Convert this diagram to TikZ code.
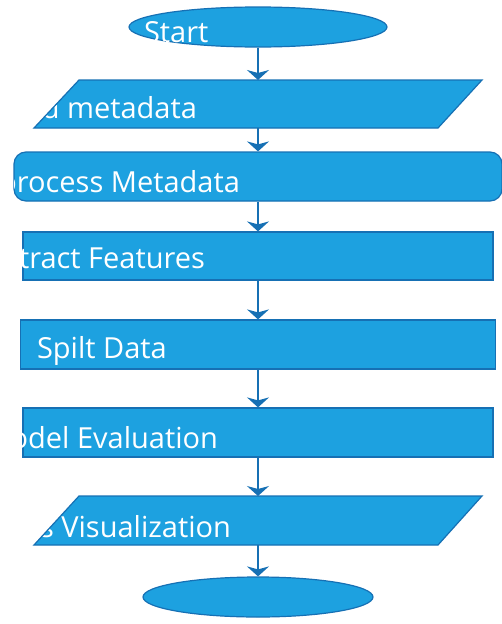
\documentclass[tikz,border=0pt]{standalone}
\usepackage{fontspec}
\setmainfont{Open Sans}
\usetikzlibrary{shapes.geometric,arrows.meta}
\definecolor{boxfill}{HTML}{1DA1E0}
\definecolor{boxline}{HTML}{1670B4}
\tikzset{
  flow/.style={fill=boxfill, draw=boxline, line width=1.2pt},
  frame/.style={inner sep=0pt, outer sep=0pt, draw=none},
  lbl/.style={text=white, inner sep=0pt, outer sep=0pt, font=\fontsize{29}{35}\selectfont},
  link/.style={draw=boxline, line width=1.5pt, -{Stealth[width=22pt,length=10pt,inset=3pt]}}
}
\begin{document}
\begin{tikzpicture}[x=1pt, y=-1pt]
  \useasboundingbox (0,0) rectangle (501,624);

  % text anchors (labels are clipped to their shapes)
  \coordinate (startTxt) at (144,42);
  \coordinate (loadTxt)  at (197,118);
  \coordinate (preTxt)   at (240,192);
  \coordinate (extTxt)   at (205,268);
  \coordinate (splitTxt) at (37,358);
  \coordinate (modelTxt) at (218,448);
  \coordinate (resTxt)   at (231,537);

  % terminator: start
  \node[flow, ellipse, inner sep=0pt, minimum width=258pt, minimum height=40pt]
        (start) at (258,27) {};
  \begin{scope}
    \clip (start) ellipse [x radius=129pt, y radius=20pt];
    \node[lbl, anchor=base west] (startLbl) at (startTxt) {Start};
  \end{scope}

  % input: load metadata
  \node[frame, minimum width=448pt, minimum height=48pt] (load) at (258,104) {};
  \path[flow, path picture={\node[lbl, anchor=base east] (loadLbl) at (loadTxt) {Load metadata};}]
    (load.south west) -- ([xshift=45pt]load.north west) -- (load.north east)
    -- ([xshift=-44pt]load.south east) -- cycle;

  % process steps
  \node[flow, rectangle, rounded corners=12pt, inner sep=0pt,
        minimum width=488pt, minimum height=49pt] (pre) at (258,176.5) {};
  \begin{scope}
    \clip[rounded corners=12pt] (pre.south west) rectangle (pre.north east);
    \node[lbl, anchor=base east] (preLbl) at (preTxt) {Preprocess Metadata};
  \end{scope}

  \node[flow, rectangle, inner sep=0pt, minimum width=470pt, minimum height=48pt]
        (ext) at (258,256) {};
  \begin{scope}
    \clip (ext.south west) rectangle (ext.north east);
    \node[lbl, anchor=base east] (extLbl) at (extTxt) {Extract Features};
  \end{scope}

  \node[flow, rectangle, inner sep=0pt, minimum width=475pt, minimum height=49pt]
        (split) at (258,344.5) {};
  \begin{scope}
    \clip (split.south west) rectangle (split.north east);
    \node[lbl, anchor=base west] (splitLbl) at (splitTxt) {Spilt Data};
  \end{scope}

  \node[flow, rectangle, inner sep=0pt, minimum width=470pt, minimum height=49pt]
        (model) at (258,432.5) {};
  \begin{scope}
    \clip (model.south west) rectangle (model.north east);
    \node[lbl, anchor=base east] (modelLbl) at (modelTxt) {Model Evaluation};
  \end{scope}

  % output: results visualization
  \node[frame, minimum width=448pt, minimum height=49pt] (res) at (258,520.5) {};
  \path[flow, path picture={\node[lbl, anchor=base east] (resLbl) at (resTxt) {Results Visualization};}]
    (res.south west) -- ([xshift=45pt]res.north west) -- (res.north east)
    -- ([xshift=-44pt]res.south east) -- cycle;

  % terminator: end
  \node[flow, ellipse, inner sep=0pt, minimum width=230pt, minimum height=40pt]
        (stop) at (258,597) {};

  % connectors
  \draw[link] (start) -- (load);
  \draw[link] (load)  -- (pre);
  \draw[link] (pre)   -- (ext);
  \draw[link] (ext)   -- (split);
  \draw[link] (split) -- (model);
  \draw[link] (model) -- (res);
  \draw[link] (res)   -- (stop);
\end{tikzpicture}
\end{document}
